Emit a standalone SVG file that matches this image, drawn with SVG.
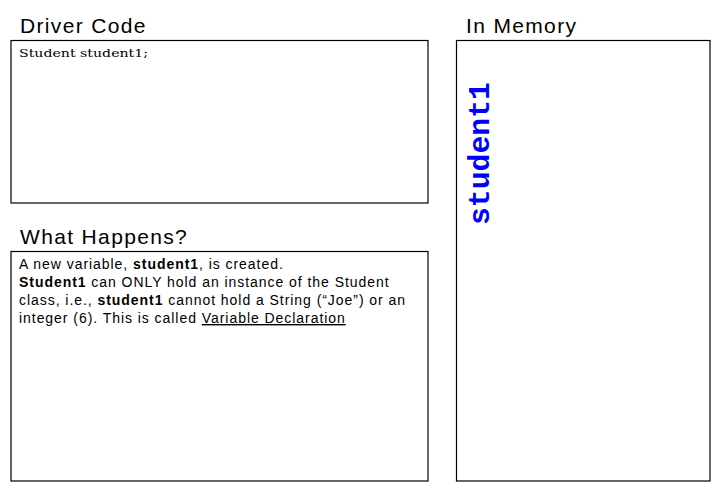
<svg xmlns="http://www.w3.org/2000/svg" width="720" height="494" viewBox="0 0 720 494">
<style>
.box{fill:#fff;stroke:#000;stroke-width:1.2}
.title{font-family:"Liberation Sans",Arial,sans-serif;font-size:21px;fill:#000;letter-spacing:1.35px}
.body{font-family:"Liberation Sans",Arial,sans-serif;font-size:14px;fill:#000;letter-spacing:0.95px}
.code{font-family:"DejaVu Serif","Liberation Serif",serif;font-size:11.5px;fill:#000}
.mem{font-family:"Liberation Mono","Courier New",monospace;font-size:30px;fill:#0000ff;font-weight:bold}
</style>
<rect width="720" height="494" fill="#fff"/>
<g id="driver-code">
<text class="title" x="20" y="33">Driver Code</text>
<rect class="box" x="11" y="40.5" width="417" height="162.5"/>
<text class="code" x="19" y="57" textLength="129" lengthAdjust="spacingAndGlyphs">Student student1;</text>
</g>
<g id="what-happens">
<text class="title" x="20" y="244">What Happens?</text>
<rect class="box" x="11" y="251.5" width="417" height="229.5"/>
<text class="body" x="19" y="269">A new variable, <tspan font-weight="bold">student1</tspan>, is created.</text>
<text class="body" x="19" y="287"><tspan font-weight="bold">Student1</tspan> can ONLY hold an instance of the Student</text>
<text class="body" x="19" y="305">class, i.e., <tspan font-weight="bold">student1</tspan> cannot hold a String (“Joe”) or an</text>
<text class="body" x="19" y="323">integer (6). This is called <tspan text-decoration="underline">Variable Declaration</tspan></text>
</g>
<g id="in-memory">
<text class="title" x="466" y="33">In Memory</text>
<rect class="box" x="456.5" y="40.5" width="253.5" height="440.5"/>
<text class="mem" transform="translate(489,225) rotate(-90)" x="0" y="0" textLength="143" lengthAdjust="spacingAndGlyphs">student1</text>
</g>
<g id="connectors"/>
</svg>
